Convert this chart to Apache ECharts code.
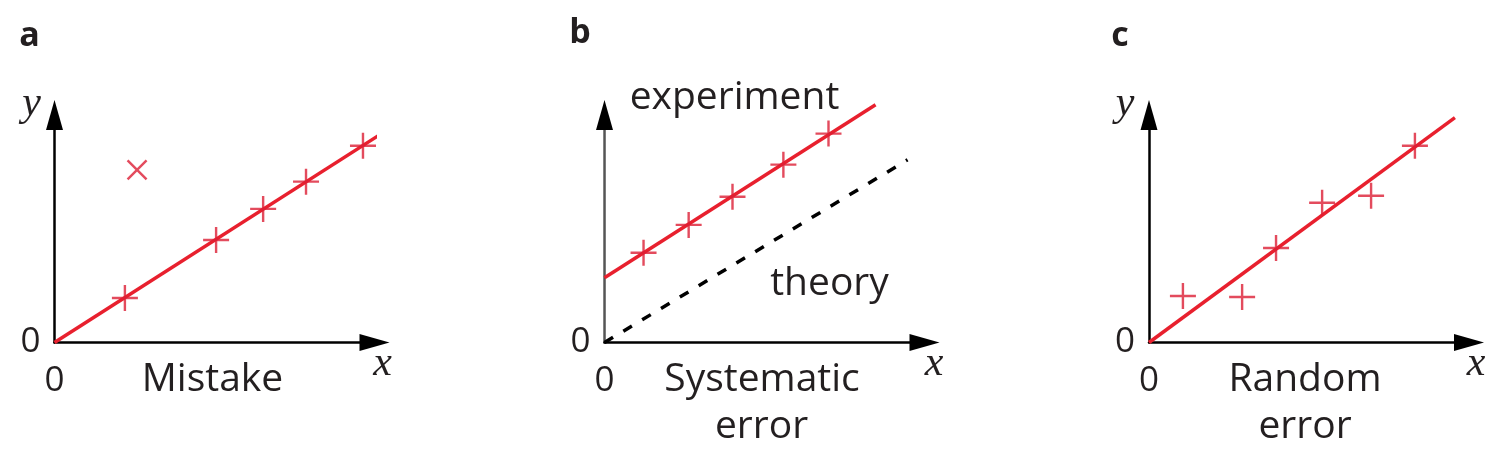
<!DOCTYPE html>
<html>
<head>
<meta charset="utf-8">
<script src="https://cdn.jsdelivr.net/npm/echarts@6/dist/echarts.min.js"></script>
<style>
html,body{margin:0;padding:0;background:#fff;}
#chart{width:1505px;height:457px;}
</style>
</head>
<body>
<div id="chart"></div>
<script>
// ---- Data (in axis units) ----
// Panel a: Mistake
const aFitLine = [[0, 0], [10.11, 6.45]];
const aPoints = [[2.20, 1.39], [5.05, 3.20], [6.52, 4.17], [7.86, 5.02], [9.64, 6.14]];
const aOutlier = [[2.58, 5.39]];
// Panel b: Systematic error
const bExperimentLine = [[0, 2.02], [8.47, 7.42]];
const bTheoryLine = [[0, 0], [9.47, 5.70]];
const bPoints = [[1.22, 2.80], [2.63, 3.67], [4.00, 4.55], [5.59, 5.55], [7.00, 6.52]];
// Panel c: Random error
const cFitLine = [[0, 0], [9.56, 7.02]];
const cPoints = [[1.06, 1.45], [2.91, 1.42], [3.97, 2.95], [5.41, 4.36], [6.94, 4.58], [8.31, 6.14]];
// Labels
const panelLetters = ['a', 'b', 'c'];
const panelCaptions = [['Mistake'], ['Systematic', 'error'], ['Random', 'error']];
const tickLabels = ['0'];

const RED = '#e8202e';
const MARK = '#dc1e34';
const TXT = '#231f20';
const PLUS = 'path://M0,13 L26,13 M13,0 L13,26';
const CROSS = 'path://M0,0 L20,20 M20,0 L0,20';

const grids = [
  {left: 54.5, top: 115, width: 320, height: 227.5},
  {left: 604.5, top: 115, width: 320, height: 227.5},
  {left: 1149, top: 115, width: 320, height: 227.5}
];

function xAxis(i) {
  return {
    gridIndex: i, type: 'value', min: 0, max: 10, interval: 10,
    splitLine: {show: false}, axisTick: {show: false},
    axisLine: {onZero: false, lineStyle: {color: '#000', width: 2.5},
      symbol: ['none', 'triangle'], symbolSize: [17, 30]},
    axisLabel: {formatter: v => (v === 0 ? tickLabels[0] : ''), fontSize: 35,
      fontFamily: 'Open Sans', color: TXT, margin: 21}
  };
}
function yAxis(i, color, arrow, showLabel) {
  return {
    gridIndex: i, type: 'value', position: 'left', offset: 0,
    min: 0, max: 7.1, interval: 7.1,
    splitLine: {show: false}, axisTick: {show: false},
    axisLine: {onZero: false, lineStyle: {color: color, width: arrow === 'only' ? 0.1 : 2.5},
      symbol: arrow ? ['none', 'triangle'] : ['none', 'none'], symbolSize: [17, 30]},
    axisLabel: {show: showLabel, formatter: v => (v === 0 ? tickLabels[0] : ''), fontSize: 35,
      fontFamily: 'Open Sans', color: TXT, margin: 14}
  };
}
function fitLine(i, data, color, type, width) {
  return {type: 'line', xAxisIndex: i, yAxisIndex: i, data: data, showSymbol: false,
    symbol: 'none', clip: false, silent: true,
    lineStyle: {color: color, width: width, type: type}, z: 3};
}
function marks(i, data, symbol, size) {
  return {type: 'scatter', xAxisIndex: i, yAxisIndex: i, data: data, symbol: symbol,
    symbolSize: size, clip: false, silent: true,
    itemStyle: {color: 'rgba(0,0,0,0)', borderColor: MARK, borderWidth: 2.4}, z: 4};
}

function txt(text, x, y, font, align) {
  return {type: 'text', silent: true, style: {text: text, x: x, y: y, font: font,
    fill: TXT, align: align || 'center', verticalAlign: 'middle'}};
}
const capFont = '39px "Open Sans"';
const letterFont = 'bold 34px "Open Sans"';
const varFont = 'italic 42px "Liberation Serif"';

const option = {
  animation: false,
  backgroundColor: '#fff',
  grid: grids,
  xAxis: [xAxis(0), xAxis(1), xAxis(2)],
  yAxis: [yAxis(0, '#000', true, true), yAxis(1, '#5a5a5a', false, true), yAxis(2, '#000', true, true),
          yAxis(1, '#000', 'only', false)],
  series: [
    fitLine(0, aFitLine, RED, 'solid', 3.5),
    marks(0, aPoints, PLUS, 26),
    marks(0, aOutlier, CROSS, 19),
    fitLine(1, bTheoryLine, '#000', [10, 12], 3.5),
    fitLine(1, bExperimentLine, RED, 'solid', 3.5),
    marks(1, bPoints, PLUS, 26),
    fitLine(2, cFitLine, RED, 'solid', 3.5),
    marks(2, cPoints, PLUS, 26)
  ],
  graphic: [
    txt(panelLetters[0], 29.5, 36, letterFont),
    txt(panelLetters[1], 580, 33, letterFont),
    txt(panelLetters[2], 1120, 36, letterFont),
    txt('y', 31.5, 104, varFont),
    txt('y', 1125, 104, varFont),
    txt('x', 382.5, 364, varFont),
    txt('x', 934, 364, varFont),
    txt('x', 1476, 364, varFont),
    txt(panelCaptions[0][0], 212.5, 380, capFont),
    txt(panelCaptions[1][0], 762, 380, capFont),
    txt(panelCaptions[1][1], 761.5, 427, capFont),
    txt(panelCaptions[2][0], 1305, 380, capFont),
    txt(panelCaptions[2][1], 1305, 427, capFont),
    txt('experiment', 734.5, 98, capFont),
    txt('theory', 829.5, 284, capFont)
  ]
};

const chart = echarts.init(document.getElementById('chart'), null, {renderer: 'canvas'});
chart.setOption(option);
</script>
</body>
</html>
